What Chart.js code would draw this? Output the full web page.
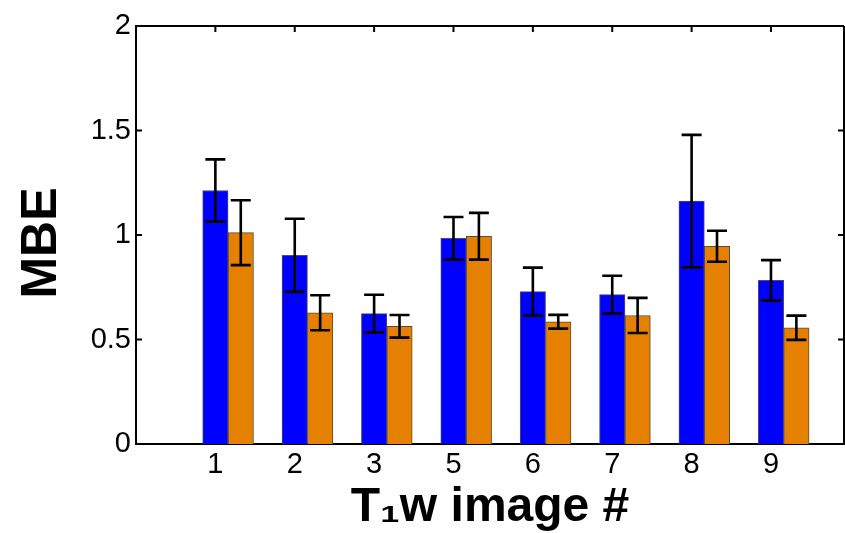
<!DOCTYPE html>
<html>
<head>
<meta charset="utf-8">
<script src="https://cdn.jsdelivr.net/npm/chart.js@4/dist/chart.umd.min.js"></script>
<style>
  html, body { margin: 0; padding: 0; background: #fff; }
  #wrap { width: 845px; height: 533px; }
</style>
</head>
<body>
<div id="wrap"><canvas id="c" width="845" height="533"></canvas></div>
<script>
// ---- data ----
const categories = ['1', '2', '3', '5', '6', '7', '8', '9'];
const blueValues = [1.213, 0.903, 0.624, 0.984, 0.729, 0.715, 1.162, 0.783];
const blueErrors = [0.149, 0.175, 0.090, 0.102, 0.115, 0.090, 0.317, 0.097];
const orangeValues = [1.011, 0.628, 0.563, 0.994, 0.585, 0.615, 0.946, 0.556];
const orangeErrors = [0.155, 0.084, 0.054, 0.112, 0.033, 0.084, 0.074, 0.058];
const yTicks = [0, 0.5, 1, 1.5, 2];

// ---- style / layout ----
const BAR_SHIFT = 0.32;   // orange bar sits one bar-width right of the blue one
const X_MAX = 8.92;
const FONT = '"Liberation Sans", Arial, sans-serif';

const blueData = categories.map((c, i) => ({ x: i + 1, y: blueValues[i] }));
const orangeData = categories.map((c, i) => ({ x: i + 1 + BAR_SHIFT, y: orangeValues[i] }));
const errorsByDataset = [blueErrors, orangeErrors];

const framePlugin = {
  id: 'frameAndErrors',
  afterDatasetsDraw(chart) {
    const ctx = chart.ctx;
    const xs = chart.scales.x, ys = chart.scales.y;
    const a = chart.chartArea;
    ctx.save();
    // error bars
    ctx.strokeStyle = '#000';
    ctx.lineWidth = 2.6;
    chart.data.datasets.forEach((ds, di) => {
      const meta = chart.getDatasetMeta(di);
      const errs = errorsByDataset[di];
      meta.data.forEach((el, i) => {
        const v = ds.data[i].y;
        const e = errs[i];
        const x = el.x;
        const yt = ys.getPixelForValue(v + e);
        const yb = ys.getPixelForValue(v - e);
        const hw = 10;
        ctx.beginPath();
        ctx.moveTo(x, yt); ctx.lineTo(x, yb);
        ctx.moveTo(x - hw, yt); ctx.lineTo(x + hw, yt);
        ctx.moveTo(x - hw, yb); ctx.lineTo(x + hw, yb);
        ctx.stroke();
      });
    });
    // top and right frame
    ctx.lineWidth = 2;
    ctx.beginPath();
    ctx.moveTo(a.left, a.top); ctx.lineTo(a.right, a.top);
    ctx.moveTo(a.right, a.top); ctx.lineTo(a.right, a.bottom);
    ctx.stroke();
    // inward tick marks
    const tl = 6;
    ctx.beginPath();
    yTicks.forEach(v => {
      if (v === yTicks[0] || v === yTicks[yTicks.length - 1]) return;
      const y = ys.getPixelForValue(v);
      ctx.moveTo(a.left, y); ctx.lineTo(a.left + tl, y);
      ctx.moveTo(a.right, y); ctx.lineTo(a.right - tl, y);
    });
    categories.forEach((c, i) => {
      const x = xs.getPixelForValue(i + 1);
      ctx.moveTo(x, a.top); ctx.lineTo(x, a.top + tl);
    });
    ctx.stroke();
    // y axis title
    ctx.translate(42, 243);
    ctx.rotate(-Math.PI / 2);
    ctx.fillStyle = '#000';
    ctx.font = 'bold 50px ' + FONT;
    ctx.textAlign = 'center';
    ctx.textBaseline = 'middle';
    ctx.fillText('MBE', 0, 0);
    ctx.restore();
  }
};

new Chart(document.getElementById('c'), {
  type: 'bar',
  data: {
    datasets: [
      {
        label: 'A',
        data: blueData,
        backgroundColor: '#0000FF',
        borderColor: '#4a4a6a',
        borderWidth: 1,
        grouped: false,
        categoryPercentage: 1,
        barPercentage: 1
      },
      {
        label: 'B',
        data: orangeData,
        backgroundColor: '#E58000',
        borderColor: '#5a4a3a',
        borderWidth: 1,
        grouped: false,
        categoryPercentage: 1,
        barPercentage: 1
      }
    ]
  },
  options: {
    responsive: false,
    animation: false,
    devicePixelRatio: 1,
    layout: { padding: { left: 0, right: 1, top: 26, bottom: 0 } },
    plugins: { legend: { display: false }, tooltip: { enabled: false } },
    scales: {
      x: {
        type: 'linear',
        min: 0,
        max: X_MAX,
        offset: false,
        afterBuildTicks: s => { s.ticks = categories.map((c, i) => ({ value: i + 1 })); },
        afterFit: s => { s.height = 89; s.paddingLeft = 0; s.paddingRight = 0; },
        grid: { display: false, drawTicks: false },
        border: { display: true, color: '#000', width: 2 },
        ticks: {
          padding: 4,
          color: '#000',
          font: { family: FONT, size: 29 },
          maxRotation: 0,
          autoSkip: false,
          callback: (v) => categories[Math.round(v) - 1] ?? ''
        },
        title: {
          display: true,
          text: 'T\u2081w image #',
          color: '#000',
          font: { family: FONT, size: 48, weight: 'bold', lineHeight: 1 },
          padding: { top: 0, bottom: 1 }
        }
      },
      y: {
        min: 0,
        max: 2,
        afterBuildTicks: s => { s.ticks = yTicks.map(v => ({ value: v })); },
        afterFit: s => { s.width = 136; },
        grid: { display: false, drawTicks: false },
        border: { display: true, color: '#000', width: 2 },
        ticks: {
          padding: 5,
          color: '#000',
          font: { family: FONT, size: 29 },
          callback: v => String(v)
        },
        title: { display: false }
      }
    }
  },
  plugins: [framePlugin]
});
</script>
</body>
</html>
